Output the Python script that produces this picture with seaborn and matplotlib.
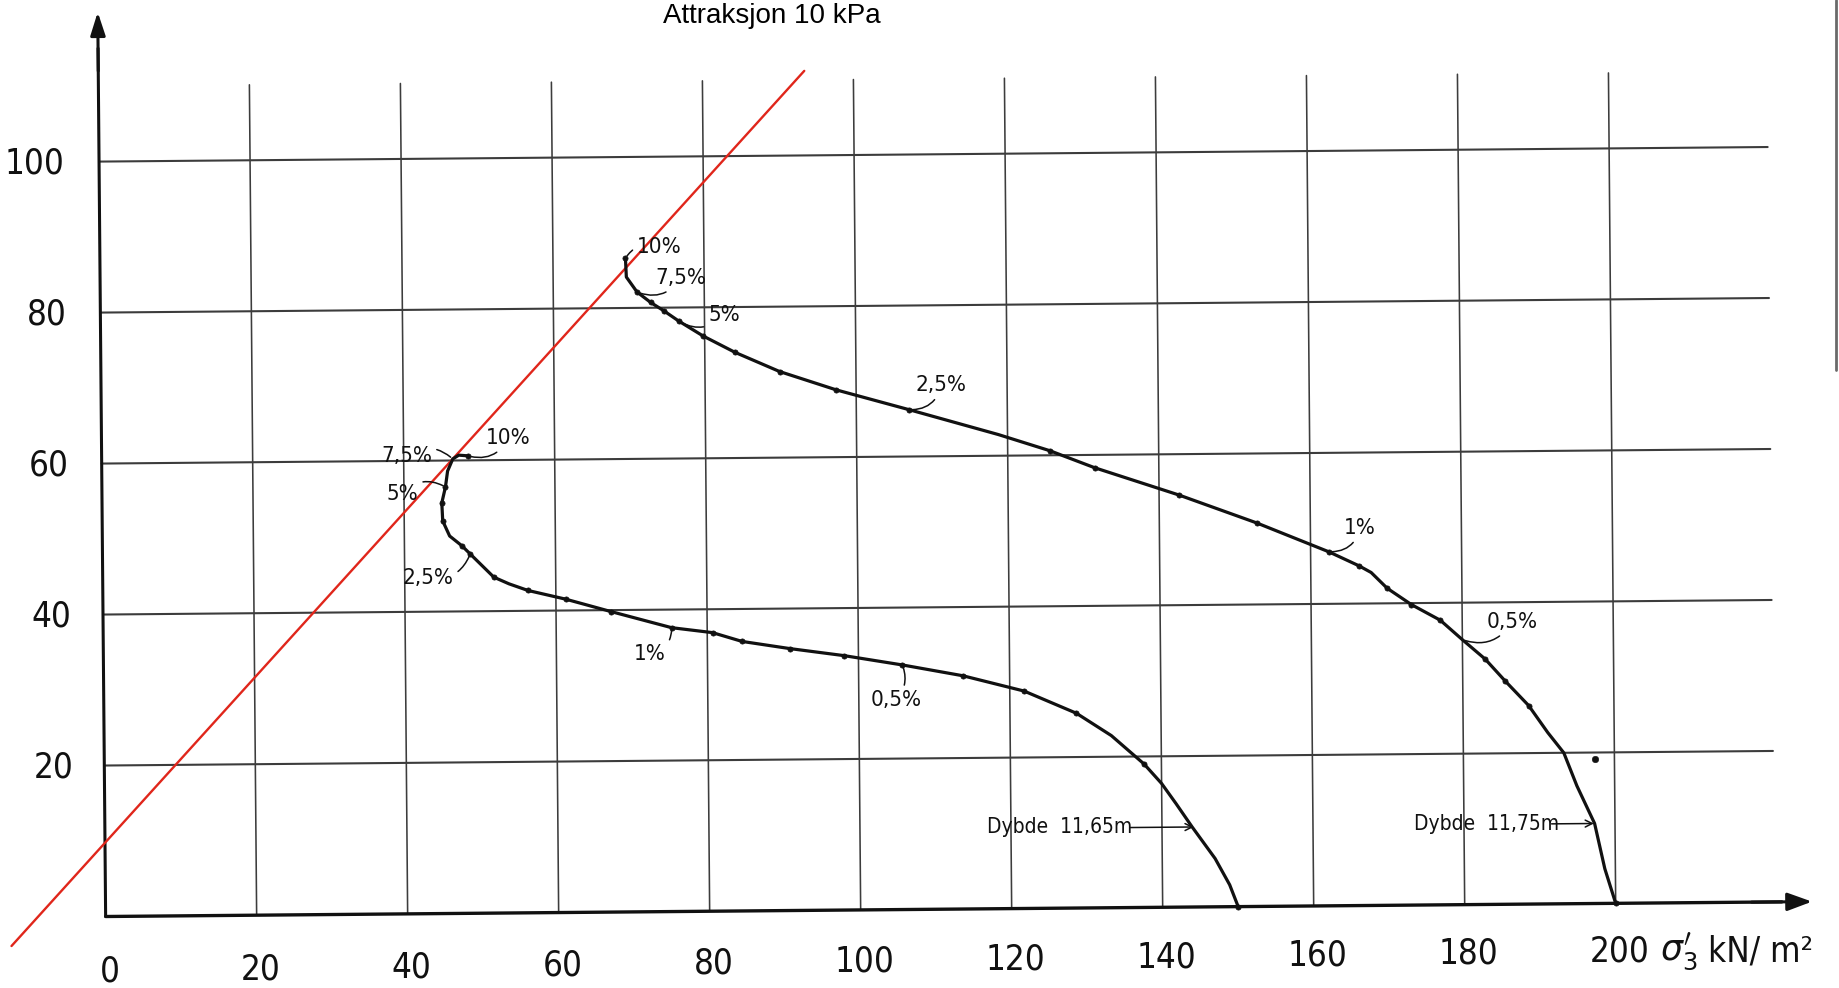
import matplotlib
matplotlib.use("Agg")
import matplotlib.pyplot as plt
import seaborn as sns
import pandas as pd
from matplotlib import font_manager as fm
from matplotlib.transforms import Affine2D
from matplotlib.lines import Line2D
from matplotlib.collections import PathCollection

# ---------------------------------------------------------------- data
x_ticks = [0, 20, 40, 60, 80, 100, 120, 140, 160, 180, 200]
y_ticks = [20, 40, 60, 80, 100]

# stress path, depth 11,75 m (from start of shearing to 10 % strain)
path_1175_x = [200.0, 198.6, 197.3, 195.0, 193.3, 191.2, 188.7, 185.6, 183.0,
               180.0, 177.1, 173.3, 170.1, 168.0, 166.4, 162.4, 152.9, 142.6,
               131.5, 125.6, 118.8, 107.0, 97.4, 89.9, 84.0, 79.8, 76.6, 74.6,
               72.9, 71.1, 69.7, 69.6]
path_1175_y = [0.0, 4.6, 10.6, 15.6, 20.0, 22.7, 26.3, 29.6, 32.5,
               35.1, 37.7, 39.8, 42.0, 44.1, 45.0, 46.9, 50.8, 54.6,
               58.3, 60.6, 62.8, 66.2, 68.9, 71.4, 74.0, 76.2, 78.2, 79.6,
               80.7, 82.1, 84.1, 86.6]
pts_1175_x = [200.0, 188.7, 185.6, 183.0, 177.1, 173.3, 170.1, 166.4, 162.4,
              152.9, 142.6, 131.5, 125.6, 107.0, 97.4, 89.9, 84.0, 79.8, 76.6,
              74.6, 72.9, 71.1, 69.6]
pts_1175_y = [0.0, 26.3, 29.6, 32.5, 37.7, 39.8, 42.0, 45.0, 46.9,
              50.8, 54.6, 58.3, 60.6, 66.2, 68.9, 71.4, 74.0, 76.2, 78.2,
              79.6, 80.7, 82.1, 86.6]

# stress path, depth 11,65 m
path_1165_x = [150.0, 148.9, 147.0, 144.0, 141.9, 140.0, 137.7, 133.4, 128.8,
               121.9, 113.8, 105.8, 98.1, 90.9, 84.6, 80.7, 75.3, 67.3, 61.3,
               56.3, 53.8, 51.8, 48.7, 47.6, 46.0, 45.1, 45.0, 45.5, 45.8,
               46.5, 47.3, 48.5]
path_1165_y = [0.0, 2.9, 6.4, 10.6, 13.7, 16.4, 19.0, 22.8, 25.8,
               28.8, 30.9, 32.4, 33.7, 34.7, 35.7, 36.9, 37.6, 39.8, 41.5,
               42.7, 43.6, 44.5, 47.6, 48.7, 50.0, 52.0, 54.4, 56.5, 58.6,
               60.2, 60.7, 60.6]
pts_1165_x = [150.0, 137.7, 128.8, 121.9, 113.8, 105.8, 98.1, 90.9, 84.6, 80.7,
              75.3, 67.3, 61.3, 56.3, 51.8, 48.7, 47.6, 45.1, 45.0, 45.5, 48.5]
pts_1165_y = [0.0, 19.0, 25.8, 28.8, 30.9, 32.4, 33.7, 34.7, 35.7, 36.9,
              37.6, 39.8, 41.5, 42.7, 44.5, 47.6, 48.7, 52.0, 54.4, 56.5, 60.6]

# single loose reading near the 11,75 m path
stray_x = [197.4]
stray_y = [19.1]

# failure line with 10 kPa attraction
env_x = [-12.5, 93.5]
env_y = [-3.8, 111.2]

strain_labels = ["10%", "7,5%", "5%", "2,5%", "1%", "0,5%"]
strain_pts_1175 = [(69.6, 86.6), (71.1, 82.1), (76.6, 78.2), (107.0, 66.2),
                   (162.4, 46.9), (180.0, 35.1)]
strain_pts_1165 = [(48.5, 60.6), (46.5, 60.2), (45.5, 56.5), (48.7, 47.6),
                   (75.3, 37.6), (105.8, 32.4)]

depth_labels = ["Dybde  11,65m", "Dybde  11,75m"]
title_text = "Attraksjon 10 kPa"

# ---------------------------------------------------------------- style
sns.set_style("white")
names = {f.name for f in fm.fontManager.ttflist}
if "Liberation Sans Narrow" in names:
    NARROW = dict(family="Liberation Sans Narrow")
else:
    NARROW = dict(family="DejaVu Sans", stretch="condensed")
plt.rcParams["font.family"] = ["Liberation Sans", "DejaVu Sans"]

fig = plt.figure(figsize=(18.4, 9.88), dpi=100)
ax = fig.add_axes([0, 0, 1, 1])
ax.set_xlim(-13.99, 229.7)
ax.set_ylim(-9.47, 121.4)
ax.axis("off")

# the sheet sits slightly turned on the page
T = Affine2D().rotate_deg(0.5) + ax.transData

INK = "#111111"
GRID = "#3c3c3c"


def turned(draw):
    """Run a drawing call and put its new artists on the turned sheet."""
    before = set(ax.get_children())
    draw()
    for a in ax.get_children():
        if a in before:
            continue
        if isinstance(a, PathCollection):
            a.set_offset_transform(T)
        elif isinstance(a, Line2D):
            a.set_transform(T)


# grid
for xv in x_ticks[1:]:
    ax.plot([xv, xv], [0, 110.0], color=GRID, lw=1.15, zorder=1, transform=T)
for yv in y_ticks:
    ax.plot([0, 221.0], [yv, yv], color=GRID, lw=1.5, zorder=1, transform=T)

# axes with arrow heads
ax.plot([0, 0], [0, 115], color=INK, lw=2.2, zorder=3, transform=T)
ax.annotate("", xy=(0, 119.8), xytext=(0, 112), xycoords=T, textcoords=T,
            arrowprops=dict(arrowstyle="-|>,head_length=1.4,head_width=0.45",
                            color=INK, lw=2.2, shrinkA=0, shrinkB=0))
ax.plot([0, 222], [0, 0], color=INK, lw=2.4, zorder=3, transform=T)
ax.annotate("", xy=(226.0, 0), xytext=(218, 0), xycoords=T, textcoords=T,
            arrowprops=dict(arrowstyle="-|>,head_length=1.5,head_width=0.55",
                            color=INK, lw=2.2, shrinkA=0, shrinkB=0))

# failure line
turned(lambda: sns.lineplot(x=env_x, y=env_y, ax=ax, color="#e0261b", lw=1.7,
                            zorder=4, sort=False, estimator=None))

# stress paths
df75 = pd.DataFrame({"s": path_1175_x, "t": path_1175_y})
df65 = pd.DataFrame({"s": path_1165_x, "t": path_1165_y})
turned(lambda: sns.lineplot(data=df75, x="s", y="t", ax=ax, sort=False,
                            estimator=None, color=INK, lw=2.3, zorder=5))
turned(lambda: sns.lineplot(data=df65, x="s", y="t", ax=ax, sort=False,
                            estimator=None, color=INK, lw=2.3, zorder=5))
turned(lambda: sns.scatterplot(x=pts_1175_x, y=pts_1175_y, ax=ax, color=INK,
                               s=14, edgecolor=INK, linewidth=0.5, zorder=6))
turned(lambda: sns.scatterplot(x=pts_1165_x, y=pts_1165_y, ax=ax, color=INK,
                               s=14, edgecolor=INK, linewidth=0.5, zorder=6))
turned(lambda: sns.scatterplot(x=stray_x, y=stray_y, ax=ax, color=INK, s=22,
                               edgecolor=INK, zorder=6))

# strain annotations
pos_1175 = [(74.1, 88.0), (76.9, 83.9), (82.6, 79.0), (111.3, 69.4),
            (166.6, 50.0), (186.6, 37.4)]
rad_1175 = [0.4, -0.4, -0.4, -0.4, -0.4, -0.4]
pos_1165 = [(53.9, 62.9), (40.4, 60.6), (39.8, 55.6), (43.1, 44.5),
            (72.4, 34.1), (105.0, 27.8)]
rad_1165 = [-0.4, -0.4, -0.4, 0.4, 0.4, 0.3]
for pts, poss, rads in ((strain_pts_1175, pos_1175, rad_1175),
                        (strain_pts_1165, pos_1165, rad_1165)):
    for lab, pt, tp, rd in zip(strain_labels, pts, poss, rads):
        ax.annotate(lab, xy=pt, xytext=tp, xycoords=T, textcoords=T,
                    ha="center", va="center", fontsize=16, color=INK,
                    zorder=7, **NARROW,
                    arrowprops=dict(arrowstyle="-", color=INK, lw=1.1,
                                    shrinkA=1, shrinkB=2,
                                    connectionstyle=f"arc3,rad={rd}"))

# depth labels with arrows pointing at the paths
ax.text(116.8, 10.8, depth_labels[0], ha="left", va="center", fontsize=15,
        color=INK, transform=T, **NARROW)
ax.annotate("", xy=(144.2, 10.6), xytext=(135.8, 10.6), xycoords=T,
            textcoords=T,
            arrowprops=dict(arrowstyle="->,head_length=0.5,head_width=0.25",
                            color=INK, lw=1.1, shrinkA=0, shrinkB=0))
ax.text(173.4, 10.8, depth_labels[1], ha="left", va="center", fontsize=15,
        color=INK, transform=T, **NARROW)
ax.annotate("", xy=(197.2, 10.6), xytext=(191.6, 10.6), xycoords=T,
            textcoords=T,
            arrowprops=dict(arrowstyle="->,head_length=0.5,head_width=0.25",
                            color=INK, lw=1.1, shrinkA=0, shrinkB=0))

# tick labels
for xv in x_ticks:
    ax.text(xv + 0.5, -7.3 + 0.0135 * xv, str(xv), ha="center", va="center",
            fontsize=25, color=INK, **NARROW)
for yv in y_ticks:
    ax.text(-4.2 - 0.016 * (yv - 20), yv - 0.3, str(yv), ha="right",
            va="center", fontsize=25, color=INK, **NARROW)
ax.text(205.9, -4.6, r"$\sigma_3'$", ha="left", va="center",
        fontsize=25, color=INK)
ax.text(212.2, -4.6, "kN/ m²", ha="left", va="center",
        fontsize=25, color=INK, **NARROW)

# title
fig.text(772 / 1840, 1 - 16 / 988, title_text, ha="center", va="center",
         fontsize=20, color="black")

# scan border on the right
fig.add_artist(Line2D([1836 / 1840, 1836 / 1840], [1 - 370 / 988, 1.0],
                      transform=fig.transFigure, color="#6a6a6a", lw=2.0))

fig.savefig("out.png", dpi=100, facecolor="white")
